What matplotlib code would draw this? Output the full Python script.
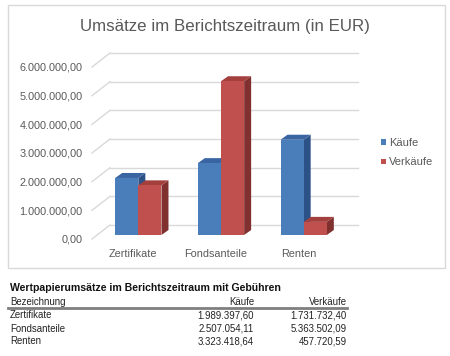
import matplotlib
matplotlib.use("Agg")
import matplotlib.pyplot as plt
from matplotlib.patches import Polygon, Rectangle, Patch
from matplotlib.lines import Line2D

# ---- data ----
categories = ["Zertifikate", "Fondsanteile", "Renten"]
kaeufe = [1989397.60, 2507054.11, 3323418.64]
verkaeufe = [1731732.40, 5363502.09, 457720.59]
series_names = ["Käufe", "Verkäufe"]
yticks = [0, 1e6, 2e6, 3e6, 4e6, 5e6, 6e6]
table_title = "Wertpapierumsätze im Berichtszeitraum mit Gebühren"
table_header = ["Bezeichnung", "Käufe", "Verkäufe"]
table_kaeufe = ["1.989.397,60", "2.507.054,11", "3.323.418,64"]
table_verkaeufe = ["1.731.732,40", "5.363.502,09", "457.720,59"]

FONT = "Liberation Sans"
W, H = 450, 356
fig = plt.figure(figsize=(W / 100, H / 100), dpi=100)
fig.patch.set_facecolor("white")

# axes geometry in pixels (front plane)
L, R, TOP, BOT = 92, 340, 67, 239
ax = fig.add_axes([L / W, 1 - BOT / H, (R - L) / W, (BOT - TOP) / H])
ax.set_xlim(-0.5, 2.5)
ax.set_ylim(0, 6e6)
ax.patch.set_alpha(0)
for s in ax.spines.values():
    s.set_visible(False)

sx = (R - L) / 3.0          # px per x unit
sy = (BOT - TOP) / 6e6      # px per y unit


def off(px, py):
    return px / sx, py / sy


grid_c = "#D9D9D9"
wx, wy = off(18, 14)
for v in yticks:
    ax.plot([-0.5 + wx, 2.5 + wx], [v + wy, v + wy], color=grid_c, lw=1.0,
            clip_on=False, zorder=1)
    ax.plot([-0.5, -0.5 + wx], [v, v + wy], color=grid_c, lw=1.0,
            clip_on=False, zorder=1)

# bars with 3D look
bw = 0.28
px0, py0 = off(5, 4)
dx, dy = off(7, 5)
colors = [("#4A7EBB", "#3966A3", "#2C5186"), ("#C0504D", "#A3403E", "#80302F")]
x = list(range(len(categories)))
for i in x:
    for j, vals in enumerate([kaeufe, verkaeufe]):
        v = vals[i]
        front, top, side = colors[j]
        x0 = i - bw + j * bw + px0
        x1 = x0 + bw
        y0 = py0
        y1 = v + py0
        ax.add_patch(Polygon([(x1, y0), (x1 + dx, y0 + dy), (x1 + dx, y1 + dy), (x1, y1)],
                             closed=True, facecolor=side, edgecolor="none", zorder=3, clip_on=False))
        ax.add_patch(Polygon([(x0, y1), (x0 + dx, y1 + dy), (x1 + dx, y1 + dy), (x1, y1)],
                             closed=True, facecolor=top, edgecolor="none", zorder=3, clip_on=False))
        ax.bar([x0], [v], width=bw, bottom=y0, align="edge", color=front,
               edgecolor="none", zorder=3, clip_on=False)

ax.set_yticks(yticks)
ax.set_yticklabels([f"{int(v):,}".replace(",", ".") + ",00" if v else "0,00" for v in yticks],
                   fontsize=7.8, color="#595959", fontfamily=FONT)
ax.set_xticks(x)
ax.set_xticklabels(categories, fontsize=7.8, color="#595959", fontfamily=FONT)
ax.tick_params(axis="y", length=0, pad=7)
ax.tick_params(axis="x", length=0, pad=7)

# title
fig.text(225 / W, 1 - 26 / H, "Umsätze im Berichtszeitraum (in EUR)", ha="center", va="center",
         fontsize=12.2, color="#595959", fontfamily=FONT)

# legend
handles = [Patch(facecolor=colors[0][0], edgecolor="none"),
           Patch(facecolor=colors[1][0], edgecolor="none")]
leg = fig.legend(handles, series_names, loc="upper left",
                 bbox_to_anchor=(381 / W, 1 - 138 / H), frameon=False,
                 prop={"family": FONT, "size": 8}, handlelength=0.42, handleheight=0.42,
                 handletextpad=0.3, labelspacing=0.85, borderpad=0, borderaxespad=0)
for t in leg.get_texts():
    t.set_color("#595959")

# chart border
fig.add_artist(Rectangle((8 / W, 1 - 268 / H), 437 / W, 263 / H, transform=fig.transFigure,
                         facecolor="none", edgecolor="#D9D9D9", lw=1.0))

# table below
tc = "#222222"
fs = 6.9
fig.text(10 / W, 1 - 288 / H, table_title, ha="left", va="center", fontsize=7.6,
         fontweight="bold", color="#111111", fontfamily=FONT)
fig.text(10 / W, 1 - 302 / H, table_header[0], ha="left", va="center", fontsize=fs,
         color=tc, fontfamily=FONT)
fig.text(254 / W, 1 - 302 / H, table_header[1], ha="right", va="center", fontsize=fs,
         color=tc, fontfamily=FONT)
fig.text(347 / W, 1 - 302 / H, table_header[2], ha="right", va="center", fontsize=fs,
         color=tc, fontfamily=FONT)
fig.add_artist(Line2D([8 / W, 347 / W], [1 - 307.8 / H, 1 - 307.8 / H], transform=fig.transFigure,
                      color="#7F7F7F", lw=2.0))
row_y = [315, 328.5, 341.5]
for k, cat in enumerate(categories):
    yy = 1 - row_y[k] / H
    fig.text(10 / W, yy, cat, ha="left", va="center", fontsize=fs, color=tc, fontfamily=FONT)
    fig.text(254 / W, yy, table_kaeufe[k], ha="right", va="center", fontsize=fs, color=tc,
             fontfamily=FONT)
    fig.text(347 / W, yy, table_verkaeufe[k], ha="right", va="center", fontsize=fs, color=tc,
             fontfamily=FONT)

fig.savefig("out.png", dpi=100, facecolor="white")
